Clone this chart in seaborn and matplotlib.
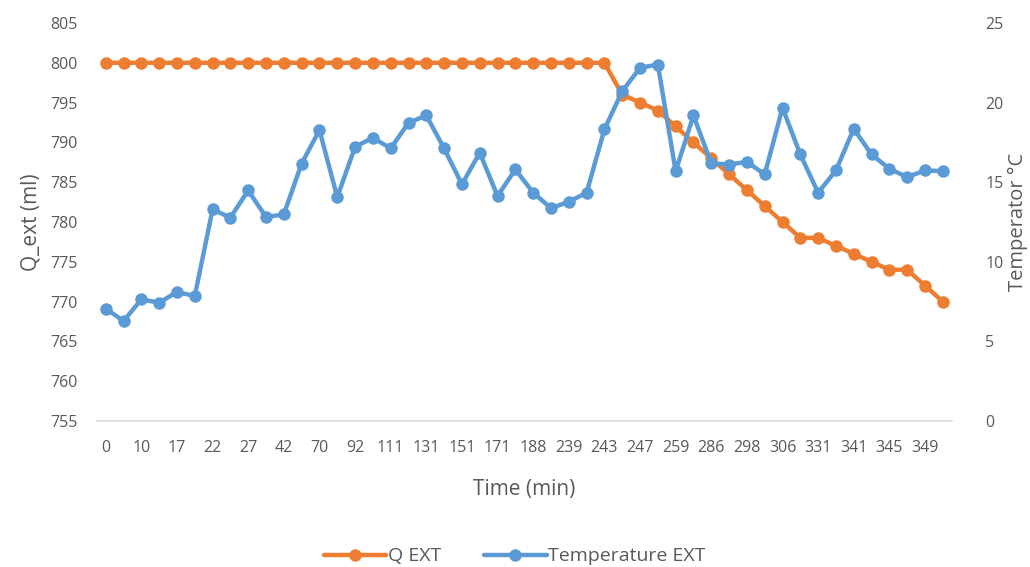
import numpy as np
import matplotlib
matplotlib.use("Agg")
import matplotlib.pyplot as plt
import seaborn as sns

# every other time is labelled on the axis (48 readings)
tick_labels = ['0', '10', '17', '22', '27', '42', '70', '92', '111', '131', '151', '171',
               '188', '239', '243', '247', '259', '286', '298', '306', '331', '341', '345', '349']

q_ext = [800] * 29 + [796, 795, 794, 792, 790, 788, 786, 784, 782, 780, 778, 778,
                      777, 776, 775, 774, 774, 772, 770]

temp_ext = [7.06, 6.28, 7.64, 7.43, 8.10, 7.85, 13.29, 12.77, 14.48, 12.81, 12.98, 16.17,
            18.27, 14.06, 17.22, 17.79, 17.12, 18.73, 19.19, 17.12, 14.86, 16.85, 14.13, 15.80,
            14.34, 13.37, 13.77, 14.34, 18.31, 20.72, 22.18, 22.39, 15.69, 19.19, 16.18, 16.11,
            16.28, 15.49, 19.67, 16.74, 14.34, 15.74, 18.35, 16.74, 15.84, 15.32, 15.74, 15.69]

idx = np.arange(len(q_ext))

sns.set_style("white")
plt.rcParams['font.family'] = ['Open Sans', 'DejaVu Sans']

orange = '#ED7D31'
blue = '#5B9BD5'
grey = '#595959'

fig = plt.figure(figsize=(10.3, 5.67), dpi=100)
ax = fig.add_axes([0.094, 0.2575, 0.83, 0.702])
ax2 = ax.twinx()

sns.lineplot(x=idx, y=q_ext, ax=ax, color=orange, marker='o', markersize=9,
             markeredgewidth=0, linewidth=3.2, label='Q EXT', legend=False)
sns.lineplot(x=idx, y=temp_ext, ax=ax2, color=blue, marker='o', markersize=9,
             markeredgewidth=0, linewidth=3.2, label='Temperature EXT', legend=False)

ax.set_xlim(-0.5, len(idx) - 0.5)
ax.set_ylim(755, 805)
ax.set_yticks(np.arange(755, 806, 5))
ax2.set_ylim(0, 25)
ax2.set_yticks(np.arange(0, 26, 5))
ax.set_xticks(idx[::2])
ax.set_xticklabels(tick_labels)

for a in (ax, ax2):
    for s in a.spines.values():
        s.set_visible(False)
    a.tick_params(length=0, labelsize=11.5, colors=grey)
ax.spines['bottom'].set_visible(True)
ax.spines['bottom'].set_color('#D9D9D9')
ax.spines['bottom'].set_linewidth(1.2)
ax.tick_params(axis='x', pad=14)
ax.tick_params(axis='y', pad=14)
ax2.tick_params(axis='y', pad=24)

ax.set_xlabel('Time (min)', fontsize=15, color=grey, labelpad=16)
ax.set_ylabel('Q_ext (ml)', fontsize=15, color=grey, labelpad=6)
ax2.set_ylabel('Temperator °C', fontsize=14.5, color=grey, labelpad=3)

h1, l1 = ax.get_legend_handles_labels()
h2, l2 = ax2.get_legend_handles_labels()
fig.legend(h1 + h2, l1 + l2, loc='lower center', bbox_to_anchor=(0.5, -0.028), ncol=2,
           frameon=False, fontsize=14, labelcolor=grey, handlelength=3.2,
           columnspacing=2.2, handletextpad=0.1)

fig.savefig('out.png', dpi=100)
